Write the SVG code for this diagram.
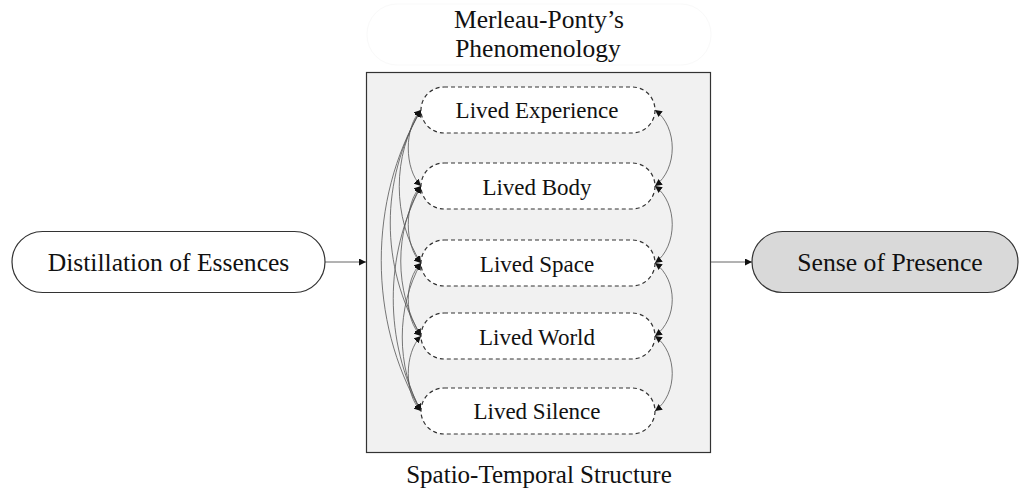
<svg xmlns="http://www.w3.org/2000/svg" width="1019" height="493" viewBox="0 0 1019 493">
  <style>
    .t { font-family: "Liberation Serif", "Times New Roman", serif; fill: #111; text-anchor: middle; }
    .main { stroke: #333; stroke-width: 1.2; }
    .lived { fill: #fff; stroke: #333; stroke-width: 1.2; stroke-dasharray: 4 3; }
    .link { fill: none; stroke: #555; stroke-width: 0.8; }
    .flow { fill: none; stroke: #555; stroke-width: 0.9; }
  </style>
  <defs>
    <marker id="ah" viewBox="0 0 10 10" refX="10" refY="5" markerWidth="7" markerHeight="7" markerUnits="userSpaceOnUse" orient="auto-start-reverse">
      <path d="M0,0 L10,5 L0,10 z" fill="#111"/>
    </marker>
  </defs>

  <!-- title area -->
  <g id="title">
    <rect x="367" y="4" width="344" height="61" rx="30" fill="none" stroke="#f9f9f9" stroke-width="1"/>
    <text class="t" x="539" y="28" font-size="25.5">Merleau-Ponty’s</text>
    <text class="t" x="538" y="57" font-size="25.5">Phenomenology</text>
  </g>

  <!-- container -->
  <g id="structure">
    <rect x="366.5" y="72.5" width="344" height="380" fill="#f1f1f1" stroke="#333" stroke-width="1.2"/>
    <text class="t" x="539" y="483" font-size="25">Spatio-Temporal Structure</text>
  </g>

  <!-- connectors -->
  <g id="connectors">
    <path class="flow" d="M325,262 L366,262" marker-end="url(#ah)"/>
    <path class="flow" d="M711,262 L752,262" marker-end="url(#ah)"/>

    <!-- left-side links between every pair -->
    <path class="link" d="M421,110 C404,127 404,169 421,186" marker-start="url(#ah)" marker-end="url(#ah)"/>
    <path class="link" d="M421,110 C392,155 392,218 421,263" marker-start="url(#ah)" marker-end="url(#ah)"/>
    <path class="link" d="M421,110 C380,180 380,266 421,336" marker-start="url(#ah)" marker-end="url(#ah)"/>
    <path class="link" d="M421,110 C368,200 368,321 421,411" marker-start="url(#ah)" marker-end="url(#ah)"/>
    <path class="link" d="M421,186 C404,203 404,246 421,263" marker-start="url(#ah)" marker-end="url(#ah)"/>
    <path class="link" d="M421,186 C394,231 394,291 421,336" marker-start="url(#ah)" marker-end="url(#ah)"/>
    <path class="link" d="M421,186 C384,256 384,341 421,411" marker-start="url(#ah)" marker-end="url(#ah)"/>
    <path class="link" d="M421,263 C404,280 404,319 421,336" marker-start="url(#ah)" marker-end="url(#ah)"/>
    <path class="link" d="M421,263 C396,307 396,367 421,411" marker-start="url(#ah)" marker-end="url(#ah)"/>
    <path class="link" d="M421,336 C404,353 404,394 421,411" marker-start="url(#ah)" marker-end="url(#ah)"/>

    <!-- right-side links between neighbours -->
    <path class="link" d="M655,110 C678,127 678,169 655,186" marker-start="url(#ah)" marker-end="url(#ah)"/>
    <path class="link" d="M655,186 C678,203 678,246 655,263" marker-start="url(#ah)" marker-end="url(#ah)"/>
    <path class="link" d="M655,263 C678,280 678,319 655,336" marker-start="url(#ah)" marker-end="url(#ah)"/>
    <path class="link" d="M655,336 C678,353 678,394 655,411" marker-start="url(#ah)" marker-end="url(#ah)"/>
  </g>

  <!-- outer nodes -->
  <g id="distillation">
    <rect class="main" x="12" y="231.5" width="313" height="61" rx="30.5" fill="#fff"/>
    <text class="t" x="168.5" y="270.5" font-size="25.6">Distillation of Essences</text>
  </g>
  <g id="presence">
    <rect class="main" x="752" y="231.5" width="266" height="61" rx="30.5" fill="#d9d9d9"/>
    <text class="t" x="890" y="270.5" font-size="25.7">Sense of Presence</text>
  </g>

  <!-- lived dimensions -->
  <g id="lived-experience">
    <rect class="lived" x="421" y="87" width="234" height="46" rx="23"/>
    <text class="t" x="537" y="118" font-size="23">Lived Experience</text>
  </g>
  <g id="lived-body">
    <rect class="lived" x="421" y="163" width="234" height="46" rx="23"/>
    <text class="t" x="537" y="195" font-size="23">Lived Body</text>
  </g>
  <g id="lived-space">
    <rect class="lived" x="421" y="240" width="234" height="46" rx="23"/>
    <text class="t" x="537" y="272" font-size="23">Lived Space</text>
  </g>
  <g id="lived-world">
    <rect class="lived" x="421" y="313" width="234" height="46" rx="23"/>
    <text class="t" x="537" y="345" font-size="23">Lived World</text>
  </g>
  <g id="lived-silence">
    <rect class="lived" x="421" y="388" width="234" height="46" rx="23"/>
    <text class="t" x="537" y="419" font-size="23">Lived Silence</text>
  </g>
</svg>
